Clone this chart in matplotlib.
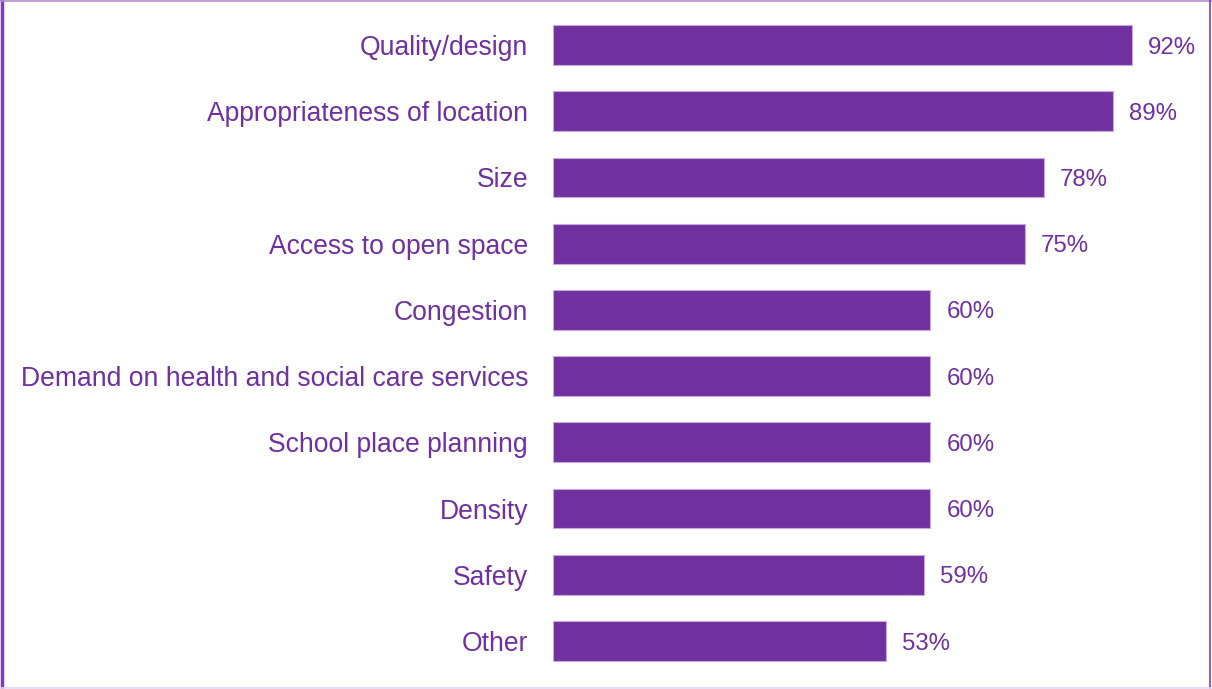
import matplotlib
matplotlib.use("Agg")
from matplotlib import pyplot as plt
from matplotlib.lines import Line2D

categories = ["Quality/design", "Appropriateness of location", "Size",
              "Access to open space", "Congestion",
              "Demand on health and social care services",
              "School place planning", "Density", "Safety", "Other"]
values = [92, 89, 78, 75, 60, 60, 60, 60, 59, 53]

purple = "#7030A0"
plt.rcParams['font.family'] = ['Liberation Sans', 'DejaVu Sans']

fig = plt.figure(figsize=(12.12, 6.89), dpi=100)
ax = fig.add_axes([0.4563, 0.0216, 0.519, 0.9611])

pos = range(len(categories))
ax.barh(pos, values, height=0.6, color=purple, edgecolor="#C9A8E0", linewidth=0.8)
ax.set_ylim(len(categories) - 0.5, -0.5)
ax.set_xlim(0, 100)
ax.set_yticks(list(pos))
ax.set_yticklabels(categories, fontsize=19.1, color=purple)
ax.tick_params(axis='y', length=0, pad=18)
ax.set_xticks([])
for s in ax.spines.values():
    s.set_visible(False)

for i, v in enumerate(values):
    ax.annotate(f"{v}%", (v, i), xytext=(11.5, 0), textcoords="offset points",
                va="center_baseline", ha="left", fontsize=17.3, color=purple)

# frame around the whole figure
fig.add_artist(Line2D([0.0015, 0.0015], [0, 1], transform=fig.transFigure, color="#7B3FB8", lw=2.5))
fig.add_artist(Line2D([0, 1], [0.999, 0.999], transform=fig.transFigure, color="#B38DD0", lw=1.2))
fig.add_artist(Line2D([0.9985, 0.9985], [0, 1], transform=fig.transFigure, color="#7A3FB0", lw=1.2))
fig.add_artist(Line2D([0, 1], [0.001, 0.001], transform=fig.transFigure, color="#E6D8F3", lw=1.2))

fig.savefig("out.png", dpi=100)
